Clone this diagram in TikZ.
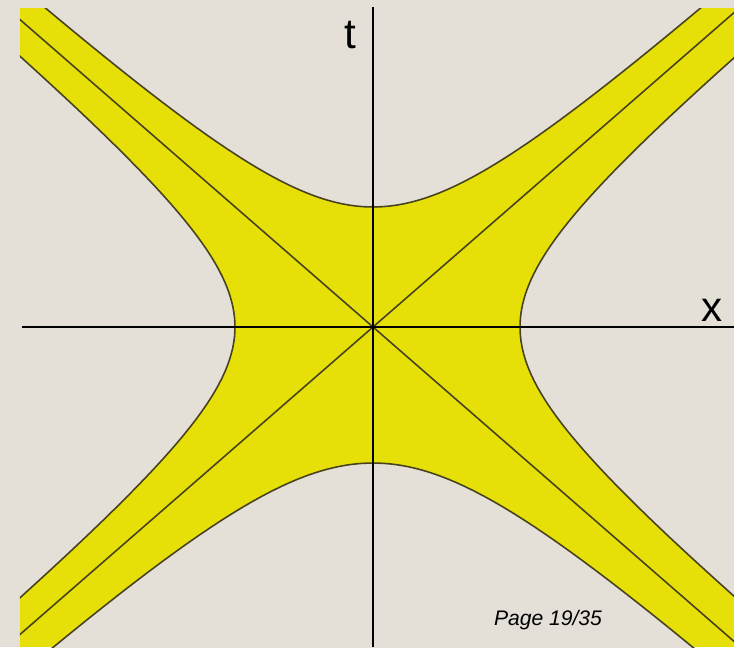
\documentclass[tikz,border=0pt]{standalone}
\usepackage{fontspec}
\setmainfont{Liberation Sans}
\definecolor{paper}{RGB}{228,224,215}
\definecolor{bandyellow}{RGB}{230,224,8}
\definecolor{rim}{RGB}{72,66,30}
\tikzset{
  rimline/.style={draw=rim, line width=0.9pt},
  axisline/.style={draw=black, line width=1.25pt},
  axislabel/.style={font=\fontsize{24}{28}\selectfont, inner sep=0pt},
}
\begin{document}
\begin{tikzpicture}[x=0.02cm, y=0.02cm]
% 1 unit = 1 px of the page, origin where the axes cross
\fill[paper] (-373,-320) rectangle (361,327);
\useasboundingbox (-373,-320) rectangle (361,327);
% band between the four hyperbola branches (scales a/b per branch)
\begin{scope}
  \clip (-353,-320) rectangle (361,319);
  \fill[bandyellow] (-353,-320) rectangle (361,319);
  % upper and lower branch
  \foreach \a/\b/\s in {133/120/1, 150/136/-1} {
    \fill[paper] plot[domain=-2:2, samples=80, variable=\u] ({\a*sinh(\u)},{\s*\b*cosh(\u)}) -- cycle;
    \draw[rimline] plot[domain=-2:2, samples=80, variable=\u] ({\a*sinh(\u)},{\s*\b*cosh(\u)});
  }
  % left and right branch
  \foreach \a/\b/\s in {138/115/-1, 147/120/1} {
    \fill[paper] plot[domain=-2:2, samples=80, variable=\u] ({\s*\a*cosh(\u)},{\b*sinh(\u)}) -- cycle;
    \draw[rimline] plot[domain=-2:2, samples=80, variable=\u] ({\s*\a*cosh(\u)},{\b*sinh(\u)});
  }
  % light cone
  \coordinate (ne) at (426,371);
  \coordinate (sw) at (-426,-371);
  \coordinate (nw) at (-426,371);
  \coordinate (se) at (426,-371);
  \draw[rimline] (sw) -- (ne);
  \draw[rimline] (nw) -- (se);
\end{scope}
% axes
\coordinate (o) at (0,0);
\coordinate (ttop) at (0,320);
\coordinate (tbot) at (0,-320);
\coordinate (xleft) at (-351,0);
\coordinate (xright) at (361,0);
\draw[axisline] (tbot) -- (ttop);
\draw[axisline] (xleft) -- (xright);
\node[axislabel] (tlabel) at (-23,292) {t};
\node[axislabel] (xlabel) at (339,17) {x};
\node[font=\fontsize{12}{14}\selectfont\itshape, inner sep=0pt] (pagelabel) at (175,-293) {Page 19/35};
\end{tikzpicture}
\end{document}
